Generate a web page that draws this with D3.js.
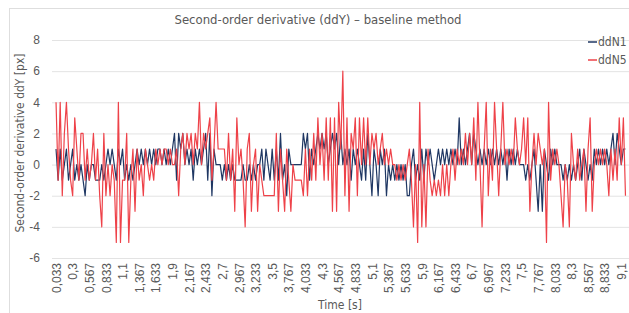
<!DOCTYPE html>
<html><head><meta charset="utf-8">
<script src="https://cdn.jsdelivr.net/npm/d3@7"></script>
<style>
html,body{margin:0;padding:0;background:#fff;}
svg{display:block;font-family:"Liberation Sans Narrow","DejaVu Sans Condensed",sans-serif;}
</style></head>
<body><svg id="c" width="629" height="313"></svg>
<script>
const title = "Second-order derivative (ddY) – baseline method";
const yTitle = "Second-order derivative ddY [px]";
const xTitle = "Time [s]";
const seriesNames = ["ddN1", "ddN5"];
const tickLabels = ["0,033","0,3","0,567","0,833","1,1","1,367","1,633","1,9","2,167","2,433","2,7","2,967","3,233","3,5","3,767","4,033","4,3","4,567","4,833","5,1","5,367","5,633","5,9","6,167","6,433","6,7","6,967","7,233","7,5","7,767","8,033","8,3","8,567","8,833","9,1"];
const yTicks = [-6,-4,-2,0,2,4,6,8];
const ddN1 = [
 1,-1,1,-1,0,1,-1,0,1,-1,0,-1,0,-1,-2,0,-1,0,0,-1,-1,-1,0,-1,0,1,0,1,0,-1,1,0,1,-1,0,-1,
 0,-1,0,1,0,1,0,1,0,1,0,1,0,1,1,0,1,0,1,0,1,2,-1,2,1,2,0,1,0,1,-1,1,0,1,
 0,1,2,-1,2,-2,1,0,0,0,-1,0,-1,0,-1,0,-1,-1,-1,-1,0,-1,-1,0,-1,0,-1,0,0,1,-1,1,0,
 -1,1,-1,1,-1,2,-1,0,-2,1,0,0,0,0,0,0,2,1,2,-1,1,0,1,2,1,2,1,2,0,1,2,1,2,0,
 2,0,1,0,1,-1,1,0,1,0,-1,1,-1,2,0,-2,1,0,-2,1,0,1,-2,0,-1,0,-1,0,-1,0,-1,0,-2,
 -2,0,1,-1,0,-1,1,-1,1,0,1,0,-1,0,1,0,1,0,1,0,1,0,1,0,3,0,1,0,1,2,0,2,1,0,
 1,0,1,0,1,0,1,0,1,0,1,0,1,-1,1,0,1,0,1,0,0,0,-1,0,-1,0,1,-1,-3,0,-3,1,0,
 -1,1,0,1,0,0,0,-1,0,-1,0,-1,0,-1,0,1,-1,1,0,-1,0,-1,1,0,1,0,1,0,1,0,1,2,0,2,1,0,1,1
];
const ddN5 = [
 4,-1,4,-2,2,4,1,-1,-2,3,1,-1,2,2,-1,1,-1,0,2,-1,1,-2,-4,2,-2,0,-2,0,-1,-5,4,-5,-1,-1,2,-5,
 -1,1,-3,1,-1,0,-2,1,0,-1,0,-1,1,0,1,0,1,1,0,1,0,0,1,-2,1,2,0,2,1,2,0,2,1,4,
 0,2,1,2,3,-1,1,4,1,1,1,1,-1,2,-1,1,-3,3,0,1,-1,-4,1,2,-3,0,1,-3,0,-1,-2,-2,-2,
 -2,-2,-2,2,-3,1,-1,-3,1,-1,-3,0,-1,-1,-1,-1,-2,1,-2,1,-1,2,-1,3,0,2,-1,3,-1,3,-3,3,-3,4,
 1,6,-2,3,-3,2,1,3,-2,3,0,3,0,3,0,2,1,2,0,1,2,0,1,0,1,0,0,-1,0,-1,0,-1,0,
 1,-1,-4,0,-5,4,-4,0,-4,1,-1,-2,-1,-2,-1,-2,0,-2,0,-2,0,1,-1,1,0,1,0,2,0,2,0,3,-1,4,
 0,-4,1,4,-2,1,-1,4,1,-2,1,4,0,1,0,1,0,3,1,0,1,3,0,3,-3,0,2,0,2,1,0,1,-5,
 4,-1,1,0,1,0,-2,-4,0,-1,-4,2,0,-1,1,-1,0,1,-3,1,3,-3,0,1,0,1,0,1,0,-2,1,-1,1,-1,3,0,3,-2
];
const colors = ["#1f3763", "#ee4249"];
const tickEvery = 8;

const svg = d3.select("#c");
const W = 629, H = 313;
const plot = {left: 55, right: 626.5, top: 40, bottom: 258};
const idx = d3.range(ddN1.length);

// chart border
svg.append("rect").attr("x", 9.5).attr("y", 8.5).attr("width", 700).attr("height", 400)
  .attr("fill", "none").attr("stroke", "#dedede").attr("stroke-width", 1);

const x = d3.scalePoint().domain(idx).range([plot.left, plot.right]).padding(0.5);
const y = d3.scaleLinear().domain([-6, 8]).range([plot.bottom, plot.top]);

// gridlines + y labels
const yAxis = d3.axisLeft(y).tickValues(yTicks).tickSize(-(W - plot.left + 3)).tickPadding(12)
  .tickFormat(d => d);
const gy = svg.append("g").attr("transform", `translate(${plot.left - 3},0)`).call(yAxis);
gy.select(".domain").remove();
gy.selectAll(".tick line").attr("stroke", "#e3e3e3").attr("stroke-width", 1);
gy.selectAll(".tick text").attr("fill", "#595959").style("font-size", "12px")
  .style("font-family", "inherit");

// x axis labels
const xAxis = d3.axisBottom(x)
  .tickValues(idx.filter(i => i % tickEvery === 0))
  .tickSize(0).tickPadding(0)
  .tickFormat(i => tickLabels[i / tickEvery]);
const gx = svg.append("g").attr("transform", `translate(0,${plot.bottom + 5})`).call(xAxis);
gx.select(".domain").remove();
gx.selectAll(".tick text")
  .attr("fill", "#595959").style("font-size", "12px").style("font-family", "inherit")
  .attr("transform", "rotate(-90)")
  .attr("text-anchor", "end").attr("dy", "0.35em").attr("x", 0).attr("y", 0);

// lines
const line = d3.line().x((d, i) => x(i)).y(d => y(d));
[ddN1, ddN5].forEach((s, k) => {
  svg.append("path").datum(s).attr("d", line).attr("fill", "none")
    .attr("stroke", colors[k]).attr("stroke-width", 1.2).attr("stroke-linejoin", "round");
});

// title
svg.append("text").attr("x", 318).attr("y", 24).attr("text-anchor", "middle")
  .attr("fill", "#595959").style("font-size", "13px").text(title);
// axis titles
svg.append("text").attr("transform", "translate(24,143) rotate(-90)").attr("text-anchor", "middle")
  .attr("fill", "#595959").style("font-size", "12px").text(yTitle);
svg.append("text").attr("x", 340).attr("y", 309).attr("text-anchor", "middle")
  .attr("fill", "#595959").style("font-size", "12px").text(xTitle);

// legend
const leg = svg.append("g");
seriesNames.forEach((n, k) => {
  const yy = 42 + k * 18;
  leg.append("line").attr("x1", 588).attr("x2", 597).attr("y1", yy).attr("y2", yy)
    .attr("stroke", colors[k]).attr("stroke-width", 1.5);
  leg.append("text").attr("x", 598).attr("y", yy).attr("dy", "0.35em")
    .attr("fill", "#595959").style("font-size", "12px").text(n);
});
</script></body></html>
